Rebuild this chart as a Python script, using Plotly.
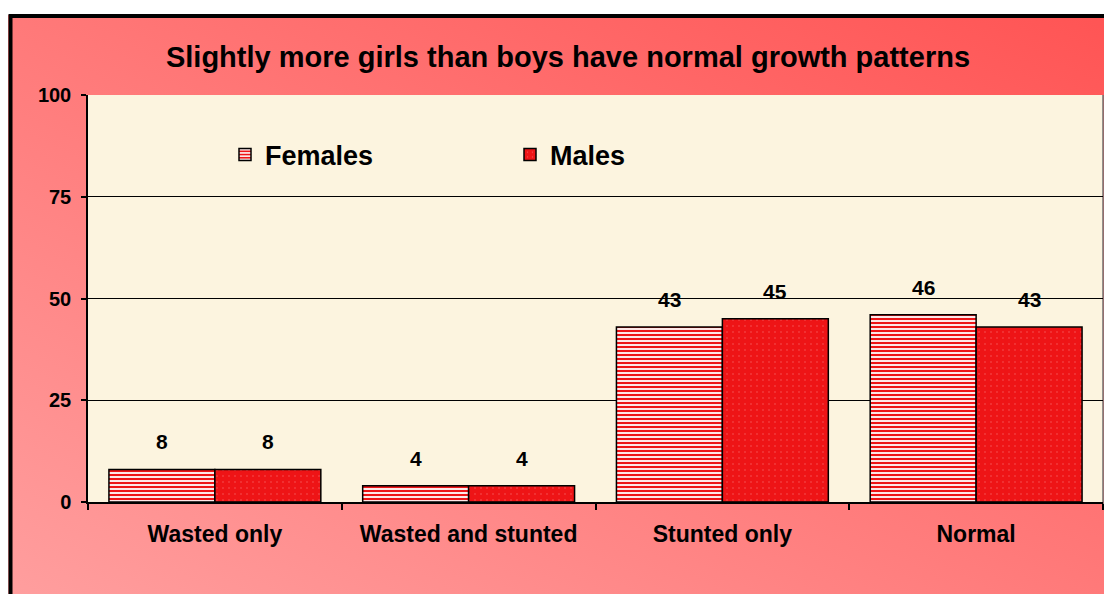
import base64
import plotly.graph_objects as go

categories = ["Wasted only", "Wasted and stunted", "Stunted only", "Normal"]
females = [8, 4, 43, 46]
males = [8, 4, 45, 43]
series_names = ["Females", "Males"]
title_text = "Slightly more girls than boys have normal growth patterns"
y_ticks = [0, 25, 50, 75, 100]

# page body has an 8px margin: work in reference pixel coords, shift by O
O = 8
W, H = 1112 - O, 594 - O
L, R, T, B = 88 - O, 9, 95 - O, 594 - 502
pw, ph = W - L - R, H - T - B

def px_x(px):
    return (px - O - L) / pw

def px_y(py):
    return (H - B - (py - O)) / ph

RED = "#EE1416"
FONT = "Arial, Liberation Sans, sans-serif"

fig = go.Figure()
fig.add_trace(go.Bar(
    name=series_names[0], x=categories, y=females,
    marker=dict(color=RED, line=dict(color="black", width=1.5),
                pattern=dict(shape="-", fillmode="overlay", fgcolor="white", fgopacity=1,
                             bgcolor=RED, size=4, solidity=0.45)),
))
fig.add_trace(go.Bar(
    name=series_names[1], x=categories, y=males,
    marker=dict(color=RED, line=dict(color="black", width=1.5),
                pattern=dict(shape=".", fgcolor="#FF9C9C", bgcolor=RED, size=6, solidity=0.05)),
))

annotations = []
for vals, shift in ((females, -53), (males, 53)):
    for c, v in zip(categories, vals):
        annotations.append(dict(x=c, y=v, xref="x", yref="y", text=str(v), showarrow=False,
                                xshift=shift, yshift=14, yanchor="bottom",
                                font=dict(family=FONT, size=21, color="black", weight="bold")))

svg = ('<svg xmlns="http://www.w3.org/2000/svg" width="1104" height="579" viewBox="0 0 1104 579" '
       'preserveAspectRatio="none"><defs><linearGradient id="g" x1="1" y1="0" x2="0" y2="1">'
       '<stop offset="0" stop-color="#FF5454"/><stop offset="1" stop-color="#FF9E9E"/>'
       '</linearGradient></defs><rect width="1104" height="579" fill="url(#g)"/></svg>')
src = "data:image/svg+xml;base64," + base64.b64encode(svg.encode()).decode()

fig.update_layout(
    width=W, height=H,
    margin=dict(l=L, r=R, t=T, b=B, pad=0),
    paper_bgcolor="white", plot_bgcolor="#FCF4DF",
    barmode="group", bargap=0.165, bargroupgap=0,
    font=dict(family=FONT, color="black"),
    title=dict(text=title_text, x=(568 - O) / W, xanchor="center", y=1 - (57 - O) / H, yanchor="middle",
               font=dict(family=FONT, size=29, color="black", weight="bold")),
    legend=dict(orientation="h", x=px_x(225), y=px_y(155), xanchor="left", yanchor="middle",
                bgcolor="rgba(0,0,0,0)", entrywidth=240, entrywidthmode="pixels",
                font=dict(family=FONT, size=27, color="black", weight="bold")),
    images=[dict(source=src, xref="paper", yref="paper", x=px_x(8), y=px_y(15),
                 sizex=(1112 - 8) / pw, sizey=(594 - 15) / ph, sizing="stretch",
                 xanchor="left", yanchor="top", layer="below")],
    shapes=[
        dict(type="rect", xref="paper", yref="paper", x0=0, x1=1, y0=0, y1=1,
             fillcolor="#FCF4DF", line=dict(width=0), layer="below"),
        dict(type="line", xref="paper", yref="paper", x0=1, x1=1, y0=px_y(508), y1=1,
             line=dict(color="#707070", width=1.5), layer="below"),
        dict(type="rect", xref="paper", yref="paper", x0=px_x(10.5), x1=px_x(1140),
             y0=px_y(640), y1=px_y(16), line=dict(color="black", width=4), layer="above"),
    ],
    annotations=annotations,
)
fig.update_xaxes(showline=True, linecolor="black", linewidth=1.5, ticks="outside",
                 tickson="boundaries", ticklen=6, tickcolor="black", tickwidth=1.5,
                 ticklabelstandoff=11,
                 tickfont=dict(family=FONT, size=23, color="black", weight="bold"))
fig.update_yaxes(range=[0, 100], tickvals=y_ticks, showline=True, linecolor="black", linewidth=1.5,
                 ticks="outside", ticklen=5, tickcolor="black", tickwidth=1.5,
                 showgrid=True, gridcolor="black", gridwidth=1, zeroline=False,
                 ticklabelstandoff=6,
                 tickfont=dict(family=FONT, size=20, color="black", weight="bold"))

fig.write_html("out.html")
